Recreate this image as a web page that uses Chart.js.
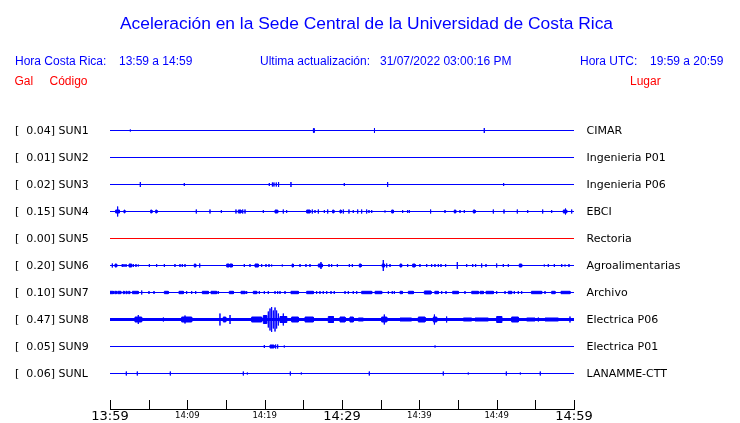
<!DOCTYPE html>
<html>
<head>
<meta charset="utf-8">
<script src="https://cdn.jsdelivr.net/npm/chart.js@4/dist/chart.umd.min.js"></script>
<style>
  html, body { margin: 0; padding: 0; background: #ffffff; }
  #wrap { position: relative; width: 740px; height: 423px; overflow: hidden; }
  #c { position: absolute; left: 0; top: 0; }
  .t { position: absolute; white-space: pre; font-family: "Liberation Sans", Arial, sans-serif; line-height: 1; }
  .b { color: #0000ff; font-size: 12px; }
  .r { color: #ff0000; font-size: 12px; }
</style>
</head>
<body>
<div id="wrap">
  <canvas id="c" width="740" height="430"></canvas>
  <div class="t" style="left:120px;top:15.3px;font-size:17.4px;color:#0000ff;">Aceleración en la Sede Central de la Universidad de Costa Rica</div>
  <div class="t b" style="left:15px;top:54.8px;">Hora Costa Rica:</div>
  <div class="t b" style="left:119px;top:54.8px;">13:59 a 14:59</div>
  <div class="t b" style="left:260px;top:54.8px;">Ultima actualización:</div>
  <div class="t b" style="left:380px;top:54.8px;">31/07/2022 03:00:16 PM</div>
  <div class="t b" style="left:580px;top:54.8px;">Hora UTC:</div>
  <div class="t b" style="left:650px;top:54.8px;">19:59 a 20:59</div>
  <div class="t r" style="left:14.5px;top:75px;">Gal</div>
  <div class="t r" style="left:49.5px;top:75px;">Código</div>
  <div class="t r" style="left:630px;top:75px;">Lugar</div>
</div>
<script>
// ---- data (time in minutes after 13:59; amplitudes in trace units) ----
const STATION_CODES = ['SUN1','SUN2','SUN3','SUN4','SUN5','SUN6','SUN7','SUN8','SUN9','SUNL'];
const STATION_PLACES = ['CIMAR','Ingenieria P01','Ingenieria P06','EBCI','Rectoria','Agroalimentarias','Archivo','Electrica P06','Electrica P01','LANAMME-CTT'];
const PEAK_GAL = [0.04, 0.01, 0.02, 0.15, 0.00, 0.20, 0.10, 0.47, 0.05, 0.06];
const TICK_LABELS = ['13:59','14:09','14:19','14:29','14:39','14:49','14:59'];
const BIG_TICK_LABELS = ['13:59','14:29','14:59'];
const T_START = 0, T_END = 60;

// events: [t, amplitude] spike, or [t, amplitude, duration] burst
const SUN1 = [[2.63,1],[26.3,2,0.1],[34.2,2.5],[48.4,2.5]];
const SUN2 = [];
const SUN3 = [[3.92,2.5],[9.61,1.5],[20.6,1.5],[21.0,2],[21.2,2],[21.5,2],[21.8,2.5],[23.4,2.5],[30.3,1.5],[35.9,2.5],[50.9,1.5]];
const SUN4 = [[0.73,1.5,0.5],[0.99,5],[1.81,1.5,0.1],[5.26,1.5,0.15],[5.91,1.5,0.15],[11.16,2],[12.93,2],[14.4,1.5],[16.29,2],[16.59,1.5,0.35],[17.16,2],[17.46,2],[19.83,1.5],[21.34,1.5,0.34],[22.41,2],[22.84,1.5],[25.43,1.5,0.43],[26.16,2],[26.51,1.5],[26.94,2],[27.72,1.5],[28.15,2],[28.79,1.5,0.15],[29.74,1.5,0.15],[30.17,2],[30.9,2],[31.46,1.5],[32.03,2],[32.54,2],[33.19,2],[33.49,1.5],[33.84,1.5],[35.56,1],[36.42,1.5,0.22],[37.84,1.5],[38.49,1.5],[38.71,1.5],[41.46,2],[43.32,1.5],[44.52,1.5,0.18],[45.26,1.5],[45.82,1.5],[46.98,1.5,0.22],[49.57,2],[50.95,2],[52.67,2],[54.01,1.5],[55.95,2],[57.11,1.5],[58.62,1.5,0.43],[58.9,3],[59.7,2]];
const SUN5 = [];
const SUN6 = [[0.3,2],[0.65,1.5,0.21],[1.59,1.5],[1.81,1.5],[2.07,1.5],[2.46,1.5,0.34],[3.02,1.5],[3.36,1.5],[3.66,1],[5.09,1.5],[6.03,1.5],[7.03,1.5],[8.4,1.5],[9.05,1.5],[9.35,1.5],[9.7,1.5],[10.9,1.5,0.18],[11.6,2],[15.09,1.5,0.3],[15.5,1.5,0.32],[17.37,1.5],[18.1,1.5],[18.75,1.5,0.43],[19.61,1.5],[20.17,1.5],[20.56,1.5],[20.9,1],[22.28,1],[23.55,1.5,0.15],[24.57,1.5],[25.34,1.5],[25.86,1.5],[26.94,1.5,0.52],[27.28,3.5],[28.32,1.5],[28.66,1.5],[29.4,1.5],[30.95,1.5],[31.34,1.5],[32.24,1.5,0.22],[35.2,1.5,0.3],[35.34,5.5],[35.78,2],[36.21,1.5],[37.5,1.5,0.21],[38.49,1.5],[39.14,1.5,0.3],[40.08,1.5],[40.95,1.5],[41.59,1.5],[42.02,1.5],[42.46,1.5],[42.8,1.5],[43.4,1.5],[44.91,3.5],[46.12,1.5],[46.9,1.5],[47.28,1.5],[48.06,2],[48.62,1.5],[50.0,2],[50.86,1.5],[51.51,1.5],[52.93,1.5,0.3],[56.16,1],[56.68,1.5],[57.46,1.5],[58.41,1.5],[58.84,1],[59.35,1.5]];
const SUN7 = [[0.0,1.2,0.45],[0.6,1.2,0.25],[1.0,1.2,0.4],[1.7,1.2,0.15],[2.05,1.2,0.15],[2.4,1.2,0.15],[2.9,1.2,0.75],[4.1,2],[5.04,1.5],[5.69,1.5],[7.03,1.2,0.5],[8.92,1.2,0.56],[9.91,1.5],[10.56,1.5],[11.08,1.5],[11.94,1.2,0.78],[13.06,1.2,0.73],[14.0,1.5],[15.43,1.2,0.52],[16.94,1.2,0.52],[17.67,1.5],[18.53,1.2,0.44],[19.31,1.5],[19.96,1.5],[20.47,1.5],[21.34,1.5],[21.68,1.5],[21.98,1.5],[22.63,1.5],[23.4,1.2,0.95],[25.43,1.2,0.86],[26.72,1.5],[27.15,1.5],[27.58,1.5],[28.02,1.5],[28.58,1.5],[29.0,1.5],[30.39,1.5],[30.82,1.5],[31.46,1.5],[31.9,1.5],[32.54,1.2,1.3],[34.27,1.2,0.86],[36.0,1.5],[36.5,1.5],[36.77,1.5],[37.5,1.2,0.3],[38.58,1.2,0.64],[40.65,1.5,0.86],[42.0,1.2,0.46],[42.89,1.5],[43.45,1.5],[44.31,1.2,0.73],[45.9,1.5],[46.77,1.2,0.86],[47.85,1.2,0.43],[48.62,1.2,0.95],[50.0,1.5],[51.08,1.5],[51.5,1.2,0.44],[52.28,1.5],[52.8,1.5],[53.23,1.5],[54.5,1.2,1.32],[56.25,1.5],[57.11,1.2,0.43],[58.32,1.2,1.16]];
const SUN8 = [[0,1.0,60],[3.23,2.5,0.86],[3.66,4.5],[6.9,2],[9.27,2.5,1.29],[9.7,4],[14.22,6],[14.65,2.5,0.31],[15.52,4.5],[18.32,2.5,1.29],[19.83,4,0.43],[20.47,8],[20.69,11],[20.9,12.5],[21.12,9],[21.34,12],[21.55,9],[21.77,6],[21.98,3,0.86],[22.41,6],[23.49,2.5,0.86],[25.22,2.5,1.07],[28.23,3,0.65],[29.74,2.5,0.65],[31.03,2.5,0.43],[32.11,1.5,0.65],[35.13,2.5,0.65],[35.47,5],[37.5,1.5,1.5],[39.87,2.5,0.86],[41.81,2.5,0.43],[41.95,5],[43.53,3],[45.69,1.5,1.08],[47.2,1.5,1.72],[50.0,3,0.65],[51.94,2.5,0.86],[53.88,1.5,1.08],[55.39,2],[56.25,1.5,1.73],[59.48,3]];
const SUN9 = [[19.96,1.5],[20.69,1.5,0.51],[21.42,2],[21.68,2],[22.54,1],[42.03,1]];
const SUNL = [[2.11,2],[3.53,2],[7.8,2],[17.24,2],[17.76,1],[23.32,2],[24.74,1],[33.53,2],[43.1,2],[46.33,1],[51.25,2],[53.06,1],[55.64,2]];
const TRACES = [SUN1,SUN2,SUN3,SUN4,SUN5,SUN6,SUN7,SUN8,SUN9,SUNL];

// ---- styling / layout ----
const ROW = 27;          // vertical spacing between traces, in trace units
const TRACE_COLORS = ['#0000ff','#0000ff','#0000ff','#0000ff','#ff0000','#0000ff','#0000ff','#0000ff','#0000ff','#0000ff'];

function buildPath(events, base) {
  const ev = events.slice().sort((a, b) => a[0] - b[0]);
  const pts = [{x: T_START, y: base}];
  for (const e of ev) {
    const t = e[0], a = e[1], w = e[2];
    if (w) {
      pts.push({x: t, y: base}, {x: t, y: base + a}, {x: t + w, y: base + a},
               {x: t + w, y: base - a}, {x: t, y: base - a}, {x: t, y: base});
    } else {
      pts.push({x: t, y: base}, {x: t, y: base + a}, {x: t, y: base - a}, {x: t, y: base});
    }
  }
  pts.push({x: T_END, y: base});
  return pts;
}

const datasets = TRACES.map((ev, i) => ({
  label: STATION_CODES[i],
  data: buildPath(ev, -ROW * i),
  borderColor: TRACE_COLORS[i],
  backgroundColor: TRACE_COLORS[i],
  borderWidth: 1,
  pointRadius: 0,
  tension: 0,
  fill: 'shape',
  borderJoinStyle: 'bevel'
}));

const labelsPlugin = {
  id: 'rowLabels',
  afterDraw(chart) {
    const ctx = chart.ctx;
    const ys = chart.scales.y;
    const xs = chart.scales.x;
    ctx.save();
    ctx.font = '11px "DejaVu Sans"';
    ctx.fillStyle = '#000000';
    ctx.textBaseline = 'middle';
    for (let i = 0; i < STATION_CODES.length; i++) {
      const py = ys.getPixelForValue(-ROW * i) + 1;
      ctx.textAlign = 'left';
      ctx.fillText('[  ' + PEAK_GAL[i].toFixed(2) + '] ' + STATION_CODES[i], 15, py);
      ctx.fillText(STATION_PLACES[i], 586.5, py);
    }
    // upward tick marks on the time axis
    ctx.strokeStyle = '#000000';
    ctx.lineWidth = 1;
    const bottom = chart.chartArea.bottom;
    for (const tk of xs.ticks) {
      const px = Math.round(xs.getPixelForValue(tk.value)) + 0.5;
      ctx.beginPath();
      ctx.moveTo(px, bottom - 9);
      ctx.lineTo(px, bottom);
      ctx.stroke();
    }
    ctx.restore();
  }
};

new Chart(document.getElementById('c'), {
  type: 'line',
  data: { datasets },
  options: {
    responsive: false,
    animation: false,
    devicePixelRatio: 1,
    layout: { padding: { left: 110, right: 166, top: 103, bottom: 5 } },
    plugins: { legend: { display: false }, tooltip: { enabled: false }, title: { display: false } },
    scales: {
      x: {
        type: 'linear',
        min: T_START, max: T_END,
        grid: { display: true, drawOnChartArea: false, drawTicks: false },
        border: { display: true, color: '#000000', width: 1 },
        ticks: {
          stepSize: 5,
          autoSkip: false,
          maxRotation: 0,
          minRotation: 0,
          padding: 0,
          color: '#000000',
          font: (c) => {
            const v = c.tick ? c.tick.value : 0;
            const lbl = v % 10 === 0 ? TICK_LABELS[v / 10] : '';
            const big = BIG_TICK_LABELS.includes(lbl);
            return { family: '"DejaVu Sans"', size: big ? 13 : 8.5, lineHeight: big ? '16px' : '13px' };
          },
          callback: (v) => (v % 10 === 0 ? TICK_LABELS[v / 10] : '')
        }
      },
      y: {
        type: 'linear',
        display: false,
        min: -278.5,
        max: 27.5
      }
    }
  },
  plugins: [labelsPlugin]
});
</script>
</body>
</html>
